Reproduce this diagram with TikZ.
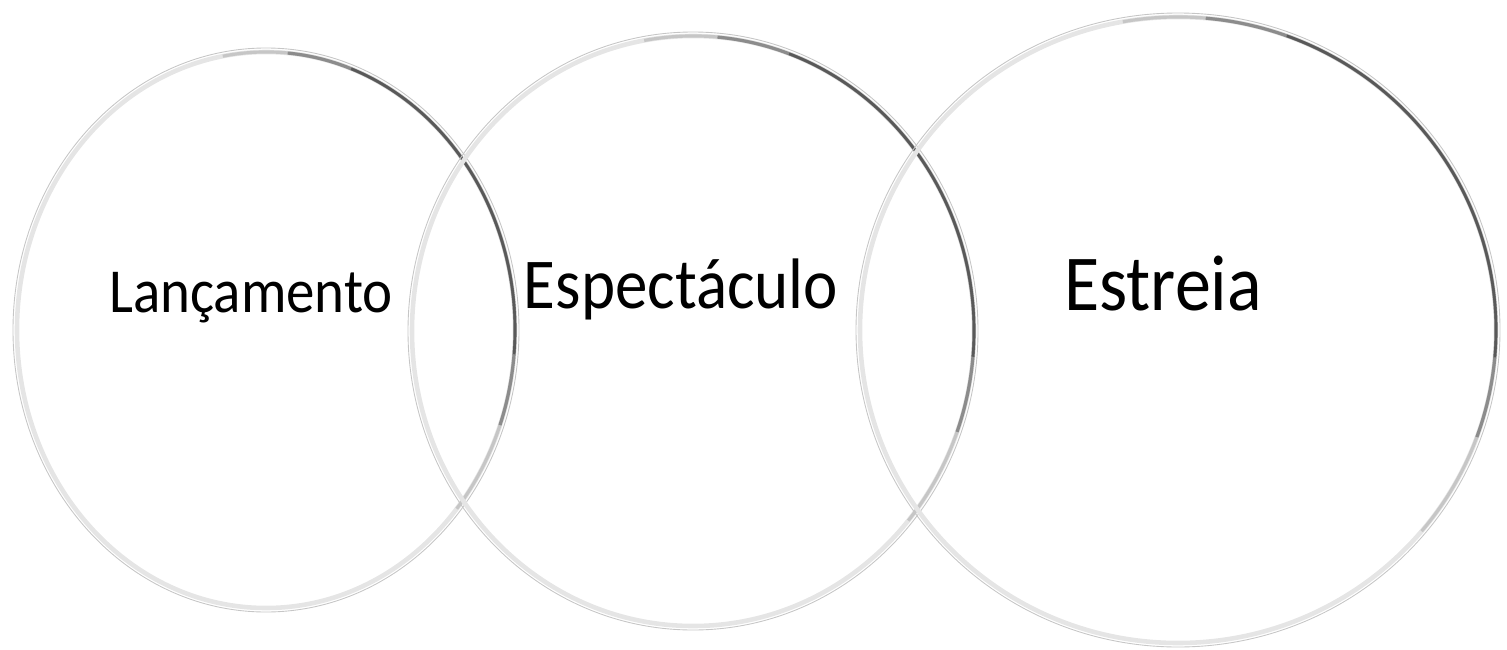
\documentclass[tikz,border=0pt]{standalone}
\usepackage{fontspec}
\setmainfont{Carlito}
\tikzset{
ring/.style={draw=gray!45,line width=0.5pt},
ring shade/.style={draw=gray!20,line width=2.6pt},
ring soft/.style={draw=gray!45,line width=1.8pt},
ring mid/.style={draw=black!45,line width=1.8pt},
ring dark/.style={draw=black!65,line width=1.5pt},
label node/.style={anchor=base,inner sep=0pt,text=black,yscale=1.1,transform shape}}

\begin{document}
\begin{tikzpicture}[x=0.02cm,y=-0.02cm]

\useasboundingbox (0,0) rectangle (1507,649);

\draw[ring shade] (266,330) ellipse[x radius=249,y radius=278];
\draw[ring soft] (266,330) ++(-100:249 and 278) arc[start angle=-100,end angle=40,x radius=249,y radius=278];
\draw[ring mid] (266,330) ++(-85:249 and 278) arc[start angle=-85,end angle=20,x radius=249,y radius=278];
\draw[ring dark] (266,330) ++(-70:249 and 278) arc[start angle=-70,end angle=5,x radius=249,y radius=278];
\draw[ring] (266,330) ellipse[x radius=253,y radius=282];

\draw[ring shade] (693,331) ellipse[x radius=281,y radius=295];
\draw[ring soft] (693,331) ++(-100:281 and 295) arc[start angle=-100,end angle=40,x radius=281,y radius=295];
\draw[ring mid] (693,331) ++(-85:281 and 295) arc[start angle=-85,end angle=20,x radius=281,y radius=295];
\draw[ring dark] (693,331) ++(-70:281 and 295) arc[start angle=-70,end angle=5,x radius=281,y radius=295];
\draw[ring] (693,331) ellipse[x radius=285,y radius=299];

\draw[ring shade] (1178,330) ellipse[x radius=318,y radius=313];
\draw[ring soft] (1178,330) ++(-100:318 and 313) arc[start angle=-100,end angle=40,x radius=318,y radius=313];
\draw[ring mid] (1178,330) ++(-85:318 and 313) arc[start angle=-85,end angle=20,x radius=318,y radius=313];
\draw[ring dark] (1178,330) ++(-70:318 and 313) arc[start angle=-70,end angle=5,x radius=318,y radius=313];
\draw[ring] (1178,330) ellipse[x radius=322,y radius=317];

\node[label node,font=\fontsize{32.4}{38}\selectfont] (lancamento) at (251,312) {Lançamento};
\node[label node,font=\fontsize{37}{44}\selectfont] (espectaculo) at (681,308) {Espectáculo};
\node[label node,font=\fontsize{41}{49}\selectfont] (estreia) at (1163,310) {Estreia};

\end{tikzpicture}
\end{document}
